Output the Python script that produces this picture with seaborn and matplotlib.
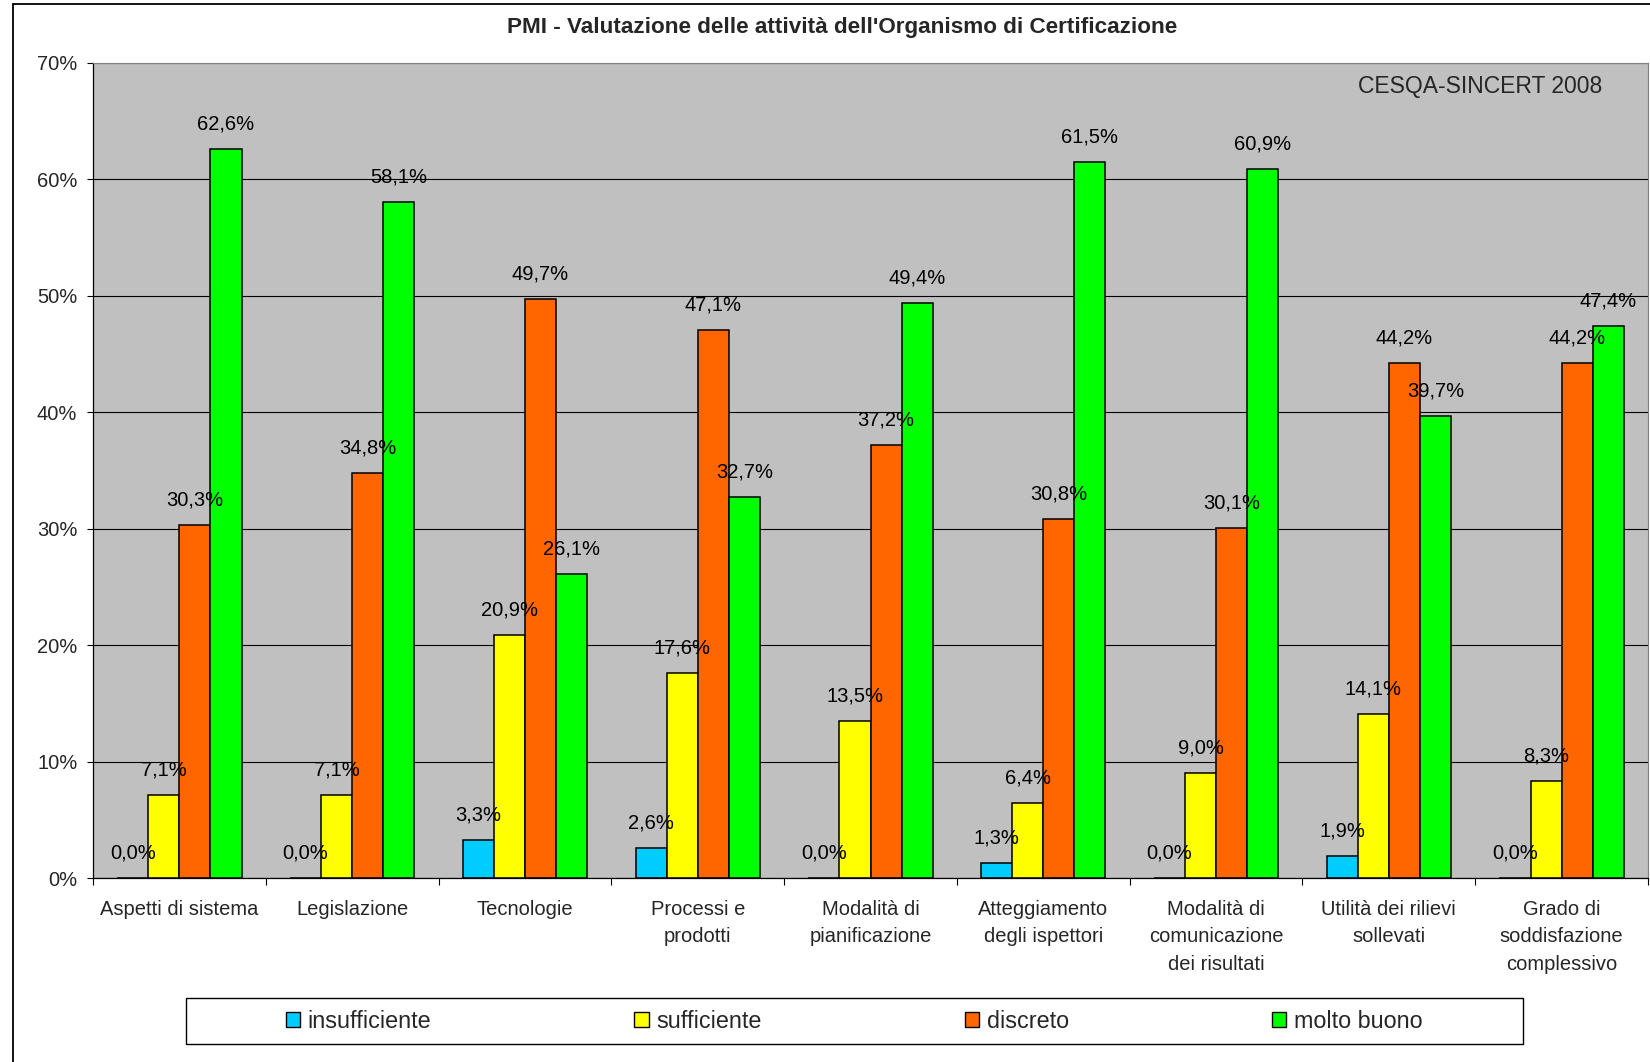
import pandas as pd
import seaborn as sns
import matplotlib.pyplot as plt
from matplotlib.lines import Line2D
from matplotlib.patches import Patch, Rectangle

# Categories and series values (percent)
categorie = [
    "Aspetti di sistema",
    "Legislazione",
    "Tecnologie",
    "Processi e\nprodotti",
    "Modalità di\npianificazione",
    "Atteggiamento\ndegli ispettori",
    "Modalità di\ncomunicazione\ndei risultati",
    "Utilità dei rilievi\nsollevati",
    "Grado di\nsoddisfazione\ncomplessivo",
]
giudizi = ["insufficiente", "sufficiente", "discreto", "molto buono"]
insufficiente = [0.0, 0.0, 3.3, 2.6, 0.0, 1.3, 0.0, 1.9, 0.0]
sufficiente = [7.1, 7.1, 20.9, 17.6, 13.5, 6.4, 9.0, 14.1, 8.3]
discreto = [30.3, 34.8, 49.7, 47.1, 37.2, 30.8, 30.1, 44.2, 44.2]
molto_buono = [62.6, 58.1, 26.1, 32.7, 49.4, 61.5, 60.9, 39.7, 47.4]
colori = ["#00CCFF", "#FFFF00", "#FF6600", "#00FF00"]
y_ticks = [0, 10, 20, 30, 40, 50, 60, 70]

# Build long-form table for seaborn
serie = [insufficiente, sufficiente, discreto, molto_buono]
righe = []
for g, valori in zip(giudizi, serie):
    for c, v in zip(categorie, valori):
        righe.append({"categoria": c, "giudizio": g, "valore": v})
df = pd.DataFrame(righe)

sns.set_theme(style="ticks")
plt.rcParams["font.family"] = ["Liberation Sans", "DejaVu Sans"]

W, H = 1650, 1062
fig = plt.figure(figsize=(W / 100, H / 100), dpi=100)
ax = fig.add_axes([93 / W, 1 - 878 / H, (1648 - 93) / W, (878 - 63) / H])
ax.set_facecolor("#C0C0C0")

sns.barplot(data=df, x="categoria", y="valore", hue="giudizio", order=categorie,
            hue_order=giudizi, palette=colori, width=0.72, gap=0,
            edgecolor="black", linewidth=1.1, saturation=1, legend=False, ax=ax)

# Data labels above bars
for cont in ax.containers:
    for bar in cont:
        h = bar.get_height()
        x = bar.get_x() + bar.get_width() / 2
        ax.annotate(f"{h:.1f}%".replace(".", ","), (x, h), xytext=(0, 18),
                    textcoords="offset points", ha="center", va="center",
                    fontsize=14.5, color="black", zorder=5)

# Axes formatting
ax.set_ylim(0, 70)
ax.set_xlim(-0.5, len(categorie) - 0.5)
ax.set_yticks(y_ticks)
ax.set_yticklabels([f"{t}%" for t in y_ticks], fontsize=14.5)
ax.yaxis.grid(True, color="black", linewidth=0.8)
ax.set_axisbelow(True)
ax.tick_params(axis="y", length=4.3, width=0.8, pad=7, color="black")

ax.set_xticks([i - 0.5 for i in range(len(categorie) + 1)])
ax.set_xticklabels([])
ax.set_xticks(range(len(categorie)), minor=True)
ax.set_xticklabels(categorie, minor=True, fontsize=14.5, linespacing=1.58)
ax.tick_params(axis="x", which="major", length=5, width=0.8, color="black")
ax.tick_params(axis="x", which="minor", length=0, pad=15.5)
ax.set_xlabel("")
ax.set_ylabel("")

for s in ["top", "right"]:
    ax.spines[s].set_color("#808080")
    ax.spines[s].set_linewidth(0.8)
for s in ["left", "bottom"]:
    ax.spines[s].set_color("black")
    ax.spines[s].set_linewidth(0.9)

fig.text(1602 / W, 1 - 86 / H, "CESQA-SINCERT 2008", ha="right", va="center",
         fontsize=16.5)
fig.text(842 / W, 1 - 27 / H, "PMI - Valutazione delle attività dell'Organismo di Certificazione",
         ha="center", va="center", fontsize=16.2, fontweight="bold")

# Legend with separate frame box
handles = [Patch(facecolor=c, edgecolor="black", linewidth=1) for c in colori]
fig.legend(handles, giudizi, loc="center", bbox_to_anchor=(854 / W, 1 - 1021 / H),
           ncol=4, frameon=False, fontsize=16.8, handlelength=0.62, handleheight=0.62,
           handletextpad=0.32, columnspacing=8.7)
fig.add_artist(Rectangle((186 / W, 1 - 1044 / H), (1523 - 186) / W, 46 / H,
                         transform=fig.transFigure, fill=False, edgecolor="black",
                         linewidth=1))

# Outer chart border (left and top visible)
fig.add_artist(Line2D([13 / W, 13 / W], [0, 1 - 4 / H], transform=fig.transFigure,
                      color="black", linewidth=1.3))
fig.add_artist(Line2D([13 / W, 1], [1 - 4 / H, 1 - 4 / H], transform=fig.transFigure,
                      color="black", linewidth=1.3))

fig.savefig("out.png", dpi=100)
